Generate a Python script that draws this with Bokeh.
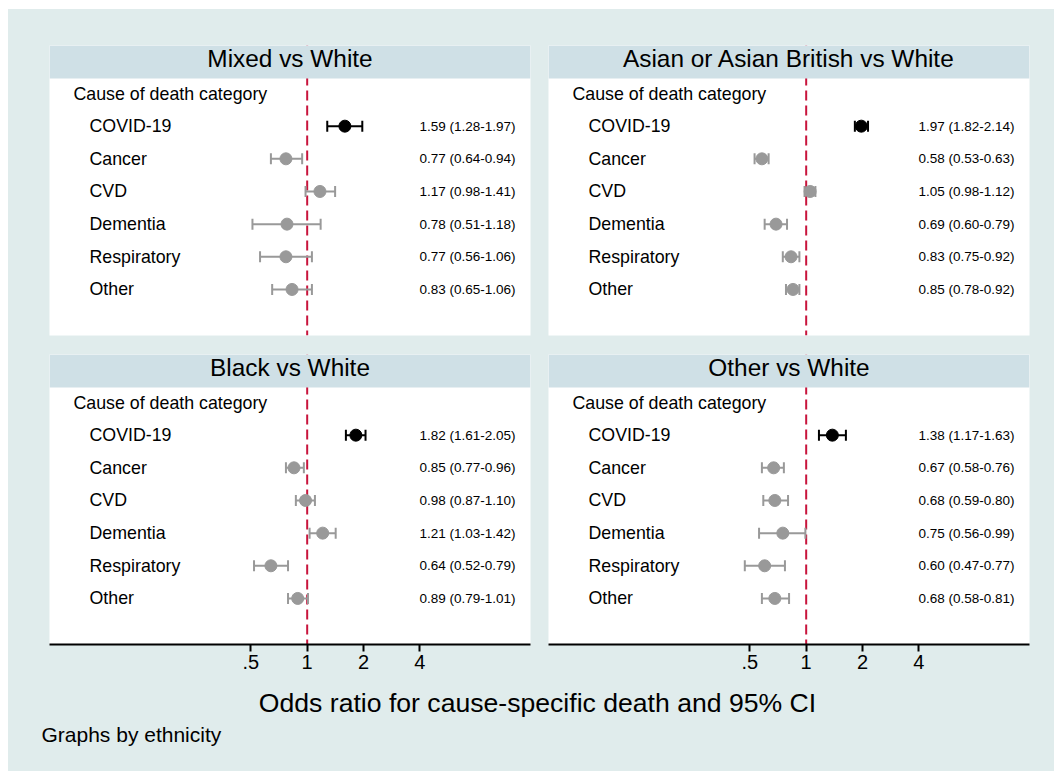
import numpy as np
from bokeh.plotting import figure
from bokeh.models import (Range1d, Span, BoxAnnotation, Label, LabelSet,
                          ColumnDataSource, FixedTicker)
from bokeh.core.properties import value
from bokeh.layouts import column, row
from bokeh.embed import file_html
from bokeh.resources import INLINE

# ---------------- data ----------------
causes = ["COVID-19", "Cancer", "CVD", "Dementia", "Respiratory", "Other"]
header_text = "Cause of death category"
panel_titles = ["Mixed vs White", "Asian or Asian British vs White",
                "Black vs White", "Other vs White"]

mixed_or = [1.59, 0.77, 1.17, 0.78, 0.77, 0.83]
mixed_lo = [1.28, 0.64, 0.98, 0.51, 0.56, 0.65]
mixed_hi = [1.97, 0.94, 1.41, 1.18, 1.06, 1.06]

asian_or = [1.97, 0.58, 1.05, 0.69, 0.83, 0.85]
asian_lo = [1.82, 0.53, 0.98, 0.60, 0.75, 0.78]
asian_hi = [2.14, 0.63, 1.12, 0.79, 0.92, 0.92]

black_or = [1.82, 0.85, 0.98, 1.21, 0.64, 0.89]
black_lo = [1.61, 0.77, 0.87, 1.03, 0.52, 0.79]
black_hi = [2.05, 0.96, 1.10, 1.42, 0.79, 1.01]

other_or = [1.38, 0.67, 0.68, 0.75, 0.60, 0.68]
other_lo = [1.17, 0.58, 0.59, 0.56, 0.47, 0.58]
other_hi = [1.63, 0.76, 0.80, 0.99, 0.77, 0.81]

tick_values = [0.5, 1, 2, 4]
tick_labels = [".5", "1", "2", "4"]
x_title = "Odds ratio for cause-specific death and 95% CI"
note_text = "Graphs by ethnicity"

# ---------------- style ----------------
FONT = "Liberation Sans"
BG = "#e0ecec"
BAND = "#cfe0e6"
RED = "#c8143c"
GRAY = "#999999"
FRAME_W, FRAME_H = 481, 290
X_START, X_END = 0.042, 15.6
Y_START, Y_END = -0.41, 8.47
BAND_BOTTOM = 7.46
BAND_BOTTOM_PX = (BAND_BOTTOM - Y_START) / (Y_END - Y_START) * FRAME_H


def make_panel(title, ors, los, his, left_b, right_b, top_b, bottom_b, with_axis):
    p = figure(frame_width=FRAME_W, frame_height=FRAME_H,
               x_axis_type="log",
               x_range=Range1d(X_START, X_END), y_range=Range1d(Y_START, Y_END),
               x_axis_location="below" if with_axis else None,
               y_axis_location=None,
               min_border_left=left_b, min_border_right=right_b,
               min_border_top=top_b, min_border_bottom=bottom_b,
               toolbar_location=None, output_backend="svg",
               background_fill_color="white", border_fill_color=BG,
               outline_line_color=None)
    for g in p.grid:
        g.visible = False

    n = len(causes)
    ys = [n - i for i in range(n)]
    header_y = n + 1
    colors = ["black"] + [GRAY] * (n - 1)
    txts = [f"{o:.2f} ({l:.2f}-{h:.2f})" for o, l, h in zip(ors, los, his)]
    src = ColumnDataSource(dict(y=ys, orv=ors, lo=los, hi=his, color=colors,
                                txt=txts, cause=causes))

    p.add_layout(Span(location=1, dimension="height", line_color=RED,
                      line_width=2, line_dash="10 5", level="underlay"))
    p.add_layout(BoxAnnotation(bottom=BAND_BOTTOM, fill_color=BAND, fill_alpha=1.0,
                               line_color=None, level="underlay"))

    p.segment(x0="lo", y0="y", x1="hi", y1="y", line_color="color",
              line_width=2, source=src)
    for col in ("lo", "hi"):
        p.scatter(x=col, y="y", marker="dash", angle=np.pi / 2, size=11,
                  line_color="color", line_width=2, source=src)
    p.scatter(x="orv", y="y", marker="circle", size=12, fill_color="color",
              line_color="color", source=src)

    p.add_layout(LabelSet(x=40, x_units="screen", y="y", text="cause", source=src,
                          text_font=value(FONT), text_font_size=value("17.8px"),
                          text_baseline="middle", text_color="black"))
    p.add_layout(LabelSet(x=FRAME_W - 15, x_units="screen", y="y", text="txt",
                          source=src, text_font=value(FONT),
                          text_font_size=value("13.5px"),
                          text_baseline="middle", text_align="right",
                          text_color="black"))
    p.add_layout(Label(x=24, x_units="screen", y=header_y, text=header_text,
                       text_font=FONT, text_font_size="17.8px",
                       text_baseline="middle", text_color="black"))
    p.add_layout(Label(x=FRAME_W / 2, x_units="screen",
                       y=BAND_BOTTOM_PX + 20, y_units="screen",
                       text=title, text_font=FONT,
                       text_font_size="24.4px", text_align="center",
                       text_baseline="middle", text_color="black"))

    if with_axis:
        ax = p.xaxis[0]
        ax.ticker = FixedTicker(ticks=tick_values, minor_ticks=[])
        ax.major_label_overrides = {v: l for v, l in zip(tick_values, tick_labels)}
        ax.axis_line_width = 2
        ax.axis_line_color = "black"
        ax.major_tick_line_width = 2
        ax.major_tick_line_color = "black"
        ax.major_tick_in = 0
        ax.major_tick_out = 7
        ax.minor_tick_line_color = None
        ax.major_label_standoff = 3
        ax.major_label_text_font = FONT
        ax.major_label_text_font_size = "20px"
        ax.major_label_text_color = "black"
    return p


tl = make_panel(panel_titles[0], mixed_or, mixed_lo, mixed_hi, 41, 9, 36, 10, False)
tr = make_panel(panel_titles[1], asian_or, asian_lo, asian_hi, 9, 25, 36, 10, False)
bl = make_panel(panel_titles[2], black_or, black_lo, black_hi, 41, 9, 9, 38, True)
br = make_panel(panel_titles[3], other_or, other_lo, other_hi, 9, 25, 9, 38, True)

strip = figure(width=1046, height=89, x_range=Range1d(0, 1), y_range=Range1d(0, 1),
               x_axis_location=None, y_axis_location=None, min_border=0,
               toolbar_location=None, output_backend="svg",
               background_fill_color=BG, border_fill_color=BG,
               outline_line_color=None)
for g in strip.grid:
    g.visible = False
strip.add_layout(Label(x=529, y=68.5, x_units="screen", y_units="screen",
                       text=x_title, text_font=FONT, text_font_size="26.6px",
                       text_align="center", text_baseline="middle",
                       text_color="black"))
strip.add_layout(Label(x=33, y=37.5, x_units="screen", y_units="screen",
                       text=note_text, text_font=FONT, text_font_size="21px",
                       text_align="left", text_baseline="middle",
                       text_color="black"))

bgstyle = {"background-color": BG}
layout = column(row(tl, tr, styles=bgstyle), row(bl, br, styles=bgstyle), strip,
                styles={"margin-left": "8px", "margin-top": "9px",
                        "background-color": BG})

with open("out.html", "w") as f:
    f.write(file_html(layout, INLINE))
